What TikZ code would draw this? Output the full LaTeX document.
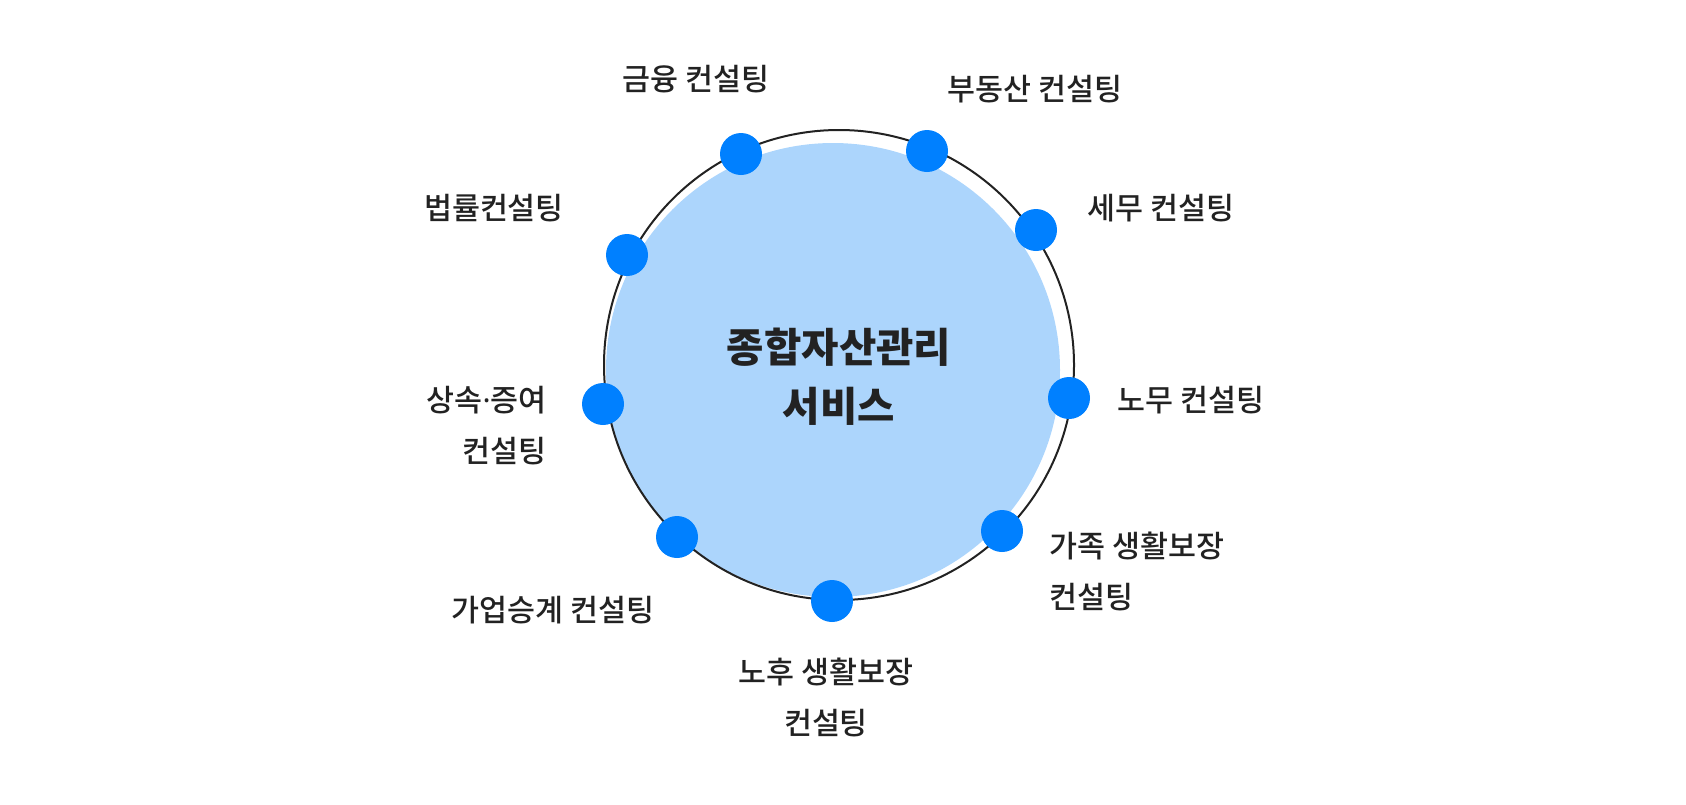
\documentclass[tikz,border=0pt]{standalone}
\usepackage{fontspec}
\newfontfamily\krfont{Noto Sans CJK KR}
\IfFontExistsTF{Noto Sans CJK KR Medium}
   {\newfontfamily\krmed{Noto Sans CJK KR Medium}}
   {\let\krmed\krfont}
\newfontfamily\latinfont{Noto Sans}
\definecolor{dotblue}{HTML}{0080FF}
\definecolor{fillblue}{HTML}{ACD5FC}
\definecolor{ink}{HTML}{222222}

\begin{document}
\begin{tikzpicture}[x=0.5pt,y=-0.5pt,
   dot/.style={circle,fill=dotblue,inner sep=0pt,minimum size=21pt},
   lbl/.style={font=\krmed\fontsize{15.2}{25.5}\selectfont,text=ink,inner sep=0pt},
   hub/.style={font=\krfont\bfseries\fontsize{20.3}{29.5}\selectfont,text=ink,align=center,inner sep=0pt}]
\useasboundingbox (0,0) rectangle (1686,804);
% big disc and its ring
\fill[fillblue] (833,370) circle[radius=227];
\draw[ink,line width=1pt] (839,365) circle[radius=235];
\node[hub] (hub) at (839,377) {종합자산관리\\서비스};
% dots on the ring
\foreach \nm/\x/\y in {fin/741/154, estate/927/151, tax/1036/230, labor/1069/398,
   family/1002/531, retire/832/601, biz/677/537, inherit/603/404, law/627/255}{
   \node[dot] (d-\nm) at (\x,\y) {};}
% labels, clockwise from the top
\node[lbl] (l-fin) at (696,79) {금융 컨설팅};
\node[lbl] (l-estate) at (1035,89) {부동산 컨설팅};
\node[lbl] (l-tax) at (1161,208) {세무 컨설팅};
\node[lbl] (l-labor) at (1191,400) {노무 컨설팅};
\node[lbl,anchor=west,align=left] (l-family) at (1049,571) {가족 생활보장\\컨설팅};
\node[lbl,align=center] (l-retire) at (826,697) {노후 생활보장\\컨설팅};
\node[lbl] (l-biz) at (553,610) {가업승계 컨설팅};
\node[lbl,anchor=east,align=right] (l-inherit) at (547,426) {상속{\latinfont·}증여\\컨설팅};
\node[lbl] (l-law) at (494,208) {법률컨설팅};
\end{tikzpicture}
\end{document}
